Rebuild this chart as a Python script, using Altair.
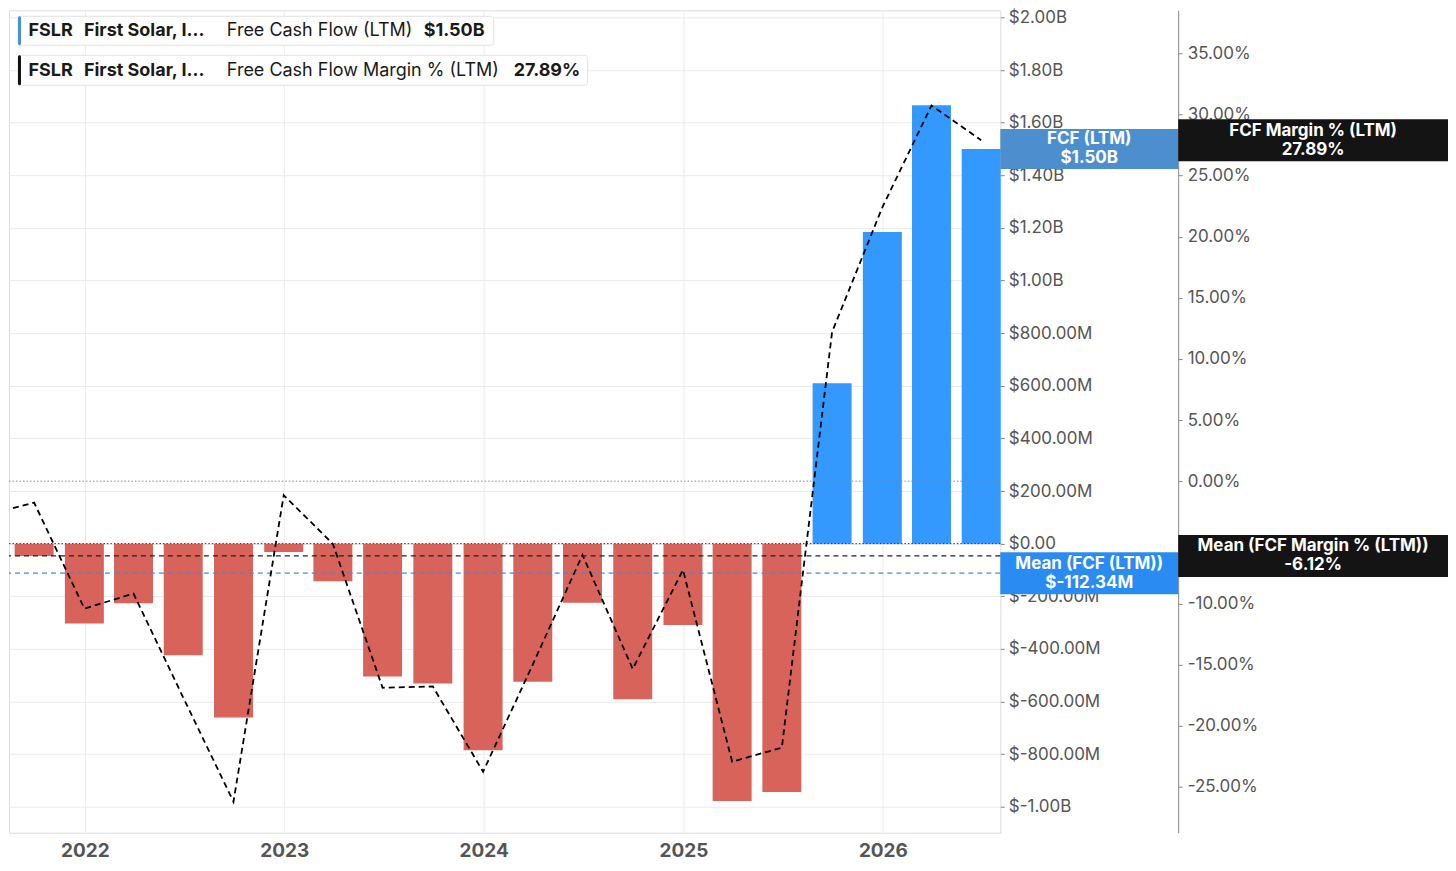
import altair as alt
import pandas as pd

# ---------------- data ----------------
quarter_ends = [
    "2021-09-30", "2021-12-31", "2022-03-31", "2022-06-30", "2022-09-30",
    "2022-12-31", "2023-03-31", "2023-06-30", "2023-09-30", "2023-12-31",
    "2024-03-31", "2024-06-30", "2024-09-30", "2024-12-31", "2025-03-31",
    "2025-06-30", "2025-09-30", "2025-12-31", "2026-03-31", "2026-06-30",
]
fcf_billions = [
    -0.047, -0.304, -0.227, -0.424, -0.661,
    -0.032, -0.143, -0.505, -0.532, -0.785,
    -0.525, -0.225, -0.591, -0.309, -0.978,
    -0.944, 0.610, 1.184, 1.666, 1.50,
]
margin_dates = ["2021-06-30"] + quarter_ends
margin_pct = [
    -2.81,
    -1.76, -10.42, -9.20, -17.7, -26.22,
    -1.15, -5.13, -16.9, -16.8, -23.77,
    -15.0, -6.03, -15.36, -7.26, -22.95,
    -21.8, 12.2, 22.4, 30.73, 27.89,
]
fcf_mean_b = -0.11234
margin_mean_pct = -6.12

fcf_ticks = [round(-1.0 + 0.2 * i, 1) for i in range(16)]
margin_ticks = list(range(-25, 40, 5))
year_ticks = [2022, 2023, 2024, 2025, 2026]

legend_ticker = "FSLR"
legend_company = "First Solar, I…"
legend_series = ["Free Cash Flow (LTM)", "Free Cash Flow Margin % (LTM)"]
legend_values = ["$1.50B", "27.89%"]

# ---------------- styling ----------------
FONT = "Inter"
RED = "#D7635B"
BLUE = "#3399FF"
LABEL_GREY = "#555555"
GRID = "#ebebeb"

W, H = 992, 823

bars_df = pd.DataFrame({"date": [d + "T00:00:00" for d in quarter_ends], "fcf": fcf_billions})
margin_df = pd.DataFrame({"date": [d + "T00:00:00" for d in margin_dates], "margin": margin_pct})
one = pd.DataFrame({"k": [0]})

x_scale = alt.Scale(domain=[alt.DateTime(year=2021, month=8, date=15),
                            alt.DateTime(year=2026, month=8, date=4)], padding=0)
fcf_scale = alt.Scale(domain=[-1.0987, 2.027], nice=False, zero=False)
margin_scale = alt.Scale(domain=[-28.76, 38.52], nice=False, zero=False)

fcf_label_expr = (
    "datum.value == 0 ? '$0.00' : (abs(datum.value) >= 1 ? "
    "'$' + (datum.value < 0 ? '-' : '') + format(abs(datum.value), '.2f') + 'B' : "
    "'$' + (datum.value < 0 ? '-' : '') + format(abs(datum.value) * 1000, '.2f') + 'M')"
)
margin_label_expr = "(datum.value < 0 ? '-' : '') + format(abs(datum.value), '.2f') + '%'"

x_enc = alt.X(
    "date:T", scale=x_scale, title=None,
    axis=alt.Axis(
        values=[alt.DateTime(year=y, month=1, date=1) for y in year_ticks],
        format="%Y", ticks=False, domain=False, grid=True, gridColor=GRID,
        labelFontSize=19, labelFontWeight="bold", labelColor=LABEL_GREY,
        labelPadding=9, labelFont=FONT,
    ),
)

BOX_TEXT = dict(font=FONT, fontSize=17, fontWeight="bold", color="white", lineHeight=19,
                align="center", baseline="middle", dy=-9.5)

# ---------------- FCF layer ----------------
bars = alt.Chart(bars_df).mark_bar(size=39).encode(
    x=x_enc,
    y=alt.Y(
        "fcf:Q", scale=fcf_scale, title=None,
        axis=alt.Axis(
            orient="right", values=fcf_ticks, labelExpr=fcf_label_expr,
            domain=False, tickSize=4, tickColor="#888888", labelPadding=4,
            labelFontSize=17, labelColor=LABEL_GREY, labelFont=FONT,
            grid=True, gridColor=GRID, labelOverlap=False,
        ),
    ),
    color=alt.condition("datum.fcf >= 0", alt.value(BLUE), alt.value(RED)),
)

fcf_zero = alt.Chart(one).mark_rule(color="#333333", strokeDash=[1.5, 2], strokeWidth=1).encode(
    y=alt.datum(0, scale=fcf_scale))
fcf_mean_rule = alt.Chart(one).mark_rule(color="#3b8ee0", strokeDash=[5, 4], strokeWidth=1.2).encode(
    y=alt.datum(fcf_mean_b, scale=fcf_scale))

last_fcf = fcf_billions[-1]
fcf_box = alt.Chart(one).mark_rect(height=40, color="#4D8FCE").encode(
    x=alt.value(992), x2=alt.value(1170), y=alt.datum(last_fcf, scale=fcf_scale))
fcf_box_text = alt.Chart(one).mark_text(**BOX_TEXT).encode(
    x=alt.value(1081), y=alt.datum(last_fcf, scale=fcf_scale),
    text=alt.value(["FCF (LTM)", f"${last_fcf:.2f}B"]))

fcf_mean_box = alt.Chart(one).mark_rect(height=42, color="#2A8CF2").encode(
    x=alt.value(992), x2=alt.value(1170), y=alt.datum(fcf_mean_b, scale=fcf_scale))
fcf_mean_text = alt.Chart(one).mark_text(**BOX_TEXT).encode(
    x=alt.value(1081), y=alt.datum(fcf_mean_b, scale=fcf_scale),
    text=alt.value(["Mean (FCF (LTM))", f"$-{abs(fcf_mean_b) * 1000:.2f}M"]))

layer_fcf = alt.layer(bars, fcf_zero, fcf_mean_rule, fcf_box, fcf_box_text,
                      fcf_mean_box, fcf_mean_text)

# ---------------- margin layer ----------------
line = alt.Chart(margin_df).mark_line(
    color="black", strokeDash=[6, 4], strokeWidth=1.8, clip=True).encode(
    x=alt.X("date:T", scale=x_scale),
    y=alt.Y(
        "margin:Q", scale=margin_scale, title=None,
        axis=alt.Axis(
            orient="right", offset=178, values=margin_ticks, labelExpr=margin_label_expr,
            domain=True, domainColor="#888888", tickSize=4, tickColor="#888888",
            labelPadding=5, labelFontSize=17, labelColor=LABEL_GREY, labelFont=FONT,
            grid=False, labelOverlap=False,
        ),
    ),
)
margin_zero = alt.Chart(one).mark_rule(color="#8a8a8a", strokeDash=[1.5, 2], strokeWidth=1).encode(
    y=alt.datum(0, scale=margin_scale))
margin_mean_rule = alt.Chart(one).mark_rule(color="#222222", strokeDash=[5, 4], strokeWidth=1.2).encode(
    y=alt.datum(margin_mean_pct, scale=margin_scale))

last_margin = margin_pct[-1]
margin_box = alt.Chart(one).mark_rect(height=42, color="#141414").encode(
    x=alt.value(1170), x2=alt.value(1440), y=alt.datum(last_margin, scale=margin_scale))
margin_box_text = alt.Chart(one).mark_text(**BOX_TEXT).encode(
    x=alt.value(1305), y=alt.datum(last_margin, scale=margin_scale),
    text=alt.value(["FCF Margin % (LTM)", f"{last_margin:.2f}%"]))

margin_mean_box = alt.Chart(one).mark_rect(height=42, color="#141414").encode(
    x=alt.value(1170), x2=alt.value(1440), y=alt.datum(margin_mean_pct, scale=margin_scale))
margin_mean_text = alt.Chart(one).mark_text(**BOX_TEXT).encode(
    x=alt.value(1305), y=alt.datum(margin_mean_pct, scale=margin_scale),
    text=alt.value(["Mean (FCF Margin % (LTM))", f"{margin_mean_pct:.2f}%"]))

# ---------------- legend (top-left) ----------------
legend_marks = []
box_specs = [  # (x right, y top, y bottom, text y, accent colour)
    (485, 6, 35, 20.5, "#4A8FD8"),
    (579, 45, 75, 61, "#111111"),
]
for i, (xr, yt, yb, ty, accent) in enumerate(box_specs):
    legend_marks.append(alt.Chart(one).mark_rect(
        fill="white", stroke="#e2e2e2", strokeWidth=1, cornerRadius=3).encode(
        x=alt.value(9), x2=alt.value(xr), y=alt.value(yt), y2=alt.value(yb)))
    legend_marks.append(alt.Chart(one).mark_rect(fill=accent, cornerRadius=1.5).encode(
        x=alt.value(9), x2=alt.value(12), y=alt.value(yt), y2=alt.value(yb)))
    legend_marks.append(alt.Chart(one).mark_text(
        font=FONT, fontSize=18, fontWeight="bold", color="#1a1a1a",
        align="left", baseline="middle").encode(
        x=alt.value(19.5), y=alt.value(ty), text=alt.value(legend_ticker)))
    legend_marks.append(alt.Chart(one).mark_text(
        font=FONT, fontSize=18, fontWeight="bold", color="#1a1a1a",
        align="left", baseline="middle").encode(
        x=alt.value(75), y=alt.value(ty), text=alt.value(legend_company)))
    legend_marks.append(alt.Chart(one).mark_text(
        font=FONT, fontSize=18, fontWeight="normal", color="#1a1a1a",
        align="left", baseline="middle").encode(
        x=alt.value(218), y=alt.value(ty), text=alt.value(legend_series[i])))
    legend_marks.append(alt.Chart(one).mark_text(
        font=FONT, fontSize=18, fontWeight="bold", color="#1a1a1a",
        align="left", baseline="middle").encode(
        x=alt.value(415 if i == 0 else 505), y=alt.value(ty), text=alt.value(legend_values[i])))

layer_margin = alt.layer(line, margin_zero, margin_mean_rule, margin_box, margin_box_text,
                         margin_mean_box, margin_mean_text, *legend_marks)

chart = alt.layer(layer_fcf, layer_margin).resolve_scale(y="independent").properties(
    width=W, height=H, padding=0, background="white"
).configure_view(stroke="#8c8c8c", strokeWidth=1).configure(font=FONT)

chart.save("out.html", embed_options={"renderer": "svg", "actions": False})
